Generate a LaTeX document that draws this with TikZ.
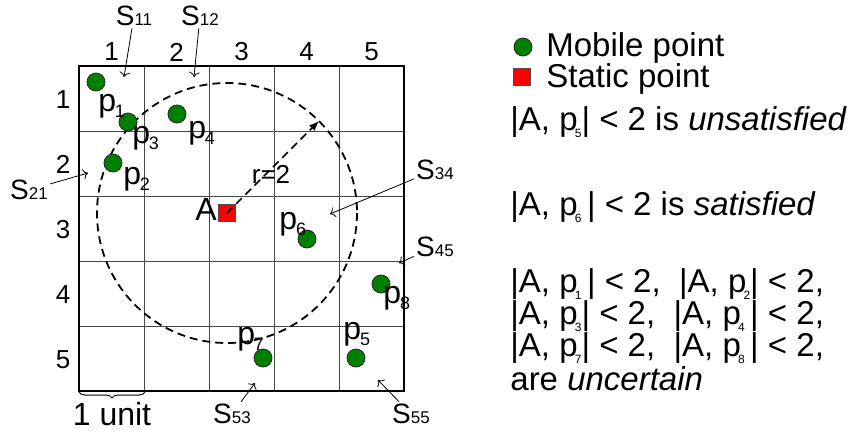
\documentclass[tikz,border=0pt]{standalone}
\usepackage{fontspec}
\setmainfont{Liberation Sans}
\usetikzlibrary{arrows.meta,calc,decorations.pathreplacing,positioning}
\definecolor{mpgreen}{RGB}{0,128,0}
\definecolor{mpred}{RGB}{255,0,0}
\definecolor{mpgray}{RGB}{70,70,70}

% small indices: under p in the grid, tiny in the text on the right
\newcommand{\psub}[1]{\kern-0.6pt\raisebox{-3pt}{\fontsize{9}{9}\selectfont #1}}
\newcommand{\rsub}[1]{\kern-1.4pt\raisebox{-3.5pt}{\fontsize{6}{6}\selectfont #1}}
\newcommand{\ssub}[1]{{\fontsize{8.5}{8.5}\selectfont #1}}

\begin{document}
\begin{tikzpicture}[
    x=0.5pt, y=-0.5pt,
    >=To,
    mobile/.style={circle, draw=black!85, fill=mpgreen, minimum size=9pt, inner sep=0pt},
    static/.style={rectangle, draw=black!70, fill=mpred, minimum size=8.5pt, inner sep=0pt},
    gridnum/.style={font=\fontsize{13}{13}\selectfont, inner sep=0pt},
    plabel/.style={font=\fontsize{16}{16}\selectfont, inner sep=0pt, anchor=base west},
    slabel/.style={font=\fontsize{14}{14}\selectfont, inner sep=1pt},
    pointer/.style={->, line width=0.4pt},
    rtext/.style={font=\fontsize{16.5}{16.5}\selectfont, inner sep=0pt, anchor=base west},
    ring/.style={line width=0.9pt, dash pattern=on 4pt off 2.5pt}
]
\useasboundingbox (0,0) rectangle (856,434);

% 5x5 grid of cells, 65 units each
\draw[mpgray, line width=0.5pt]
    \foreach \k in {1,...,4} {(79+65*\k,66) -- (79+65*\k,391) (79,66+65*\k) -- (404,66+65*\k)};
\draw[line width=1pt] (79,66) rectangle (404,391);

\foreach \c in {1,...,5} {
    \node[gridnum] (col\c) at (46.5+65*\c,52) {\c};
    \node[gridnum] (row\c) at (63,34.5+65*\c) {\c};
}

% static point A and its range r=2
\node[static] (A) at (227,213) {};
\draw[ring] (A.center) circle[radius=130];
\coordinate (rtip) at (319,121);
\draw[line width=0.8pt, dash pattern=on 4pt off 2.5pt, -{Latex[length=5pt,width=4pt]}]
    (A.center) -- (rtip);
\node[font=\fontsize{13}{13}\selectfont, inner sep=0pt] (rlab) at (271,174) {r=2};
\node[font=\fontsize{16}{16}\selectfont, anchor=base east, inner sep=0pt] (Alab) at (217,220) {A};

% mobile points and their labels
\foreach \n/\x/\y in {1/96/82, 2/113/163, 3/128/122, 4/177/114,
                      5/356/358, 6/307/239, 7/263/358, 8/381/284} {
    \node[mobile] (p\n) at (\x,\y) {};
}
\foreach \n/\x/\y in {1/98/111, 2/123/184, 3/132/143, 4/188/138,
                      5/343/339, 6/279/229, 7/237/344, 8/383/303} {
    \node[plabel] (lp\n) at (\x,\y) {p\psub{\n}};
}

% cell names with pointers
\foreach \s/\x/\y/\tx/\ty in {11/134/16/124/77, 12/200/16/194/77, 21/29/190/88/173,
                              34/435/170/330/214, 45/435/247/399/263,
                              53/232/414/255/383, 55/411/414/378/380} {
    \node[slabel] (S\s) at (\x,\y) {S\ssub{\s}};
    \coordinate (tip\s) at (\tx,\ty);
    \draw[pointer] (S\s) -- (tip\s);
}

% one cell is one unit
\draw[decorate, decoration={brace, mirror, amplitude=3pt}, line width=0.5pt]
    (79,392) -- (145,392);
\node[font=\fontsize{16}{16}\selectfont, inner sep=0pt] (unitlab) at (112,414) {1 unit};

% legend
\node[mobile] (legm) at (523,47) {};
\node[rtext] (legmt) at (546,56) {Mobile point};
\node[static] (legs) at (522,77) {};
\node[rtext] (legst) at (546,87) {Static point};

% conditions
\node[rtext] (cond5) at (510,130) {|A, p\rsub{5}| < 2 is \textit{unsatisfied}};
\node[rtext] (cond6) at (510,215) {|A, p\rsub{6}\,| < 2 is \textit{satisfied}};
\node[rtext] (unc1) at (510,292) {|A, p\rsub{1}\,| < 2,\ \ |A, p\rsub{2}| < 2,};
\node[rtext] (unc2) at (510,324) {|A, p\rsub{3}| < 2,\ \ |A, p\rsub{4}\,| < 2,};
\node[rtext] (unc3) at (510,356) {|A, p\rsub{7}| < 2,\ \ |A, p\rsub{8}\,| < 2,};
\node[rtext] (unc4) at (510,390) {are \textit{uncertain}};

\end{tikzpicture}
\end{document}
